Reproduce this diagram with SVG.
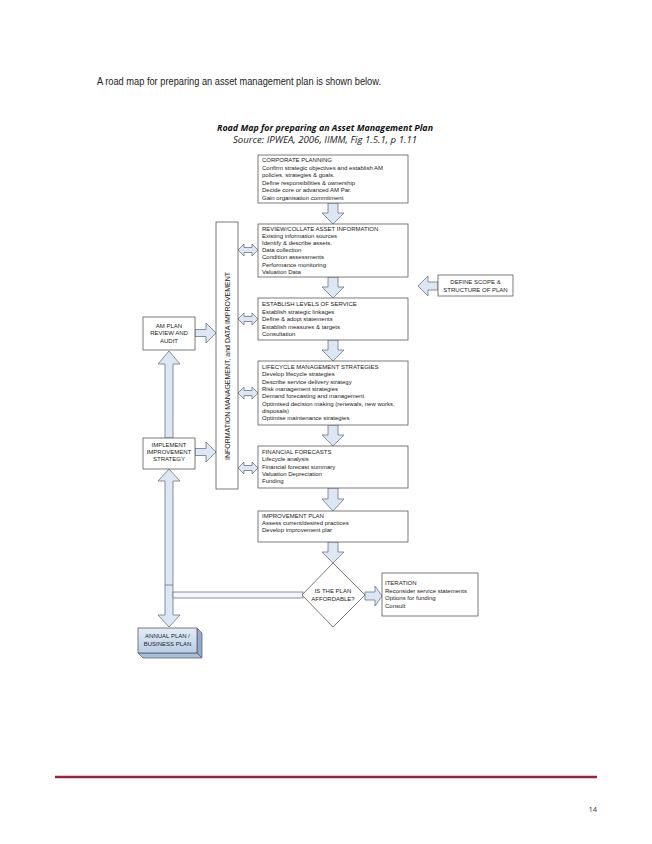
<svg xmlns="http://www.w3.org/2000/svg" width="652" height="844" viewBox="0 0 652 844">
<style>
.bx{fill:#fff;stroke:#5a5a5a;stroke-width:0.8}
.ar{fill:#dde7f3;stroke:#6b7585;stroke-width:0.8;stroke-linejoin:miter}
.t{font-family:"Liberation Sans",Arial,sans-serif;font-size:6px;fill:#222}
.c{text-anchor:middle}
</style>
<defs>
<linearGradient id="g" x1="0" y1="0" x2="0" y2="1">
<stop offset="0" stop-color="#e4ecf7"/><stop offset="1" stop-color="#b9cde6"/>
</linearGradient>
</defs>
<rect width="652" height="844" fill="#fff"/>
<text x="97" y="85" font-family="'Liberation Sans',Arial,sans-serif" font-size="10" fill="#222" textLength="284" lengthAdjust="spacingAndGlyphs">A road map for preparing an asset management plan is shown below.</text>
<text x="325" y="131" text-anchor="middle" font-family="'Open Sans','Liberation Sans',sans-serif" font-size="9.5" font-weight="bold" font-style="italic" fill="#111" textLength="216" lengthAdjust="spacingAndGlyphs">Road Map for preparing an Asset Management Plan</text>
<text x="325" y="143" text-anchor="middle" font-family="'Open Sans','Liberation Sans',sans-serif" font-size="9" font-style="italic" fill="#222" textLength="184" lengthAdjust="spacingAndGlyphs">Source: IPWEA, 2006, IIMM, Fig 1.5.1, p 1.11</text>

<g id="connectors">
<path class="ar" d="M328,203 L338,203 L338,213 L344,213 L333,224 L322,213 L328,213 Z"/>
<path class="ar" d="M328,277 L338,277 L338,287 L344,287 L333,298 L322,287 L328,287 Z"/>
<path class="ar" d="M328,340 L338,340 L338,350 L344,350 L333,361 L322,350 L328,350 Z"/>
<path class="ar" d="M328,425 L338,425 L338,435 L344,435 L333,446 L322,435 L328,435 Z"/>
<path class="ar" d="M328,488 L338,488 L338,499 L344,499 L333,511 L322,499 L328,499 Z"/>
<path class="ar" d="M328,542 L338,542 L338,552 L344,552 L333,563 L322,552 L328,552 Z"/>
<path class="ar" d="M238,250 L244,244 L244,247.5 L252,247.5 L252,244 L258,250 L252,256 L252,252.5 L244,252.5 L244,256 Z"/>
<path class="ar" d="M238,319 L244,313 L244,316.5 L252,316.5 L252,313 L258,319 L252,325 L252,321.5 L244,321.5 L244,325 Z"/>
<path class="ar" d="M238,393 L244,387 L244,390.5 L252,390.5 L252,387 L258,393 L252,399 L252,395.5 L244,395.5 L244,399 Z"/>
<path class="ar" d="M238,468 L244,462 L244,465.5 L252,465.5 L252,462 L258,468 L252,474 L252,470.5 L244,470.5 L244,474 Z"/>
<path class="ar" d="M195,329.5 L206,329.5 L206,323 L216,333 L206,343 L206,336.5 L195,336.5 Z"/>
<path class="ar" d="M195,448.5 L206,448.5 L206,442 L216,452 L206,462 L206,455.5 L195,455.5 Z"/>
<path class="ar" d="M438,282 L428,282 L428,276 L418,286 L428,296 L428,290 L438,290 Z"/>
<path class="ar" d="M365,592 L375,592 L375,586 L382,596 L375,606 L375,600 L365,600 Z"/>
<path class="ar" d="M165,438 L165,364 L158,364 L169,351 L180,364 L173,364 L173,438 Z"/>
<path class="ar" d="M169,469 L180,481 L173,481 L173,615 L180,615 L169,627 L158,615 L165,615 L165,481 L158,481 Z"/>
<line x1="165" y1="585" x2="173" y2="585" stroke="#6b7585" stroke-width="0.8"/>
<rect x="173" y="592" width="130" height="6" fill="#f3f5f9" stroke="#6b7585" stroke-width="0.8"/>
</g>

<g id="corporate">
<rect class="bx" x="258" y="155" width="150" height="48"/>
<text class="t" x="262" y="162">CORPORATE PLANNING</text>
<text class="t" x="262" y="169.5">Confirm strategic objectives and establish AM</text>
<text class="t" x="262" y="177">policies, strategies &amp; goals.</text>
<text class="t" x="262" y="184.5">Define responsibilities &amp; ownership</text>
<text class="t" x="262" y="192">Decide core or advanced AM Par.</text>
<text class="t" x="262" y="199.5">Gain organisation commitment</text>
</g>

<g id="review">
<rect class="bx" x="258" y="224" width="150" height="53"/>
<text class="t" x="262" y="230.5">REVIEW/COLLATE ASSET INFORMATION</text>
<text class="t" x="262" y="237.7">Existing information sources</text>
<text class="t" x="262" y="244.9">Identify &amp; describe assets.</text>
<text class="t" x="262" y="252.1">Data collection</text>
<text class="t" x="262" y="259.3">Condition assessments</text>
<text class="t" x="262" y="266.5">Performance monitoring</text>
<text class="t" x="262" y="273.7">Valuation Data</text>
</g>

<g id="levels">
<rect class="bx" x="258" y="298" width="150" height="42"/>
<text class="t" x="262" y="306">ESTABLISH LEVELS OF SERVICE</text>
<text class="t" x="262" y="313.5">Establish strategic linkages</text>
<text class="t" x="262" y="321">Define &amp; adopt statements</text>
<text class="t" x="262" y="328.5">Establish measures &amp; targets</text>
<text class="t" x="262" y="336">Consultation</text>
</g>

<g id="lifecycle">
<rect class="bx" x="258" y="361" width="150" height="64"/>
<text class="t" x="262" y="369">LIFECYCLE MANAGEMENT STRATEGIES</text>
<text class="t" x="262" y="376.3">Develop lifecycle strategies</text>
<text class="t" x="262" y="383.6">Describe service delivery strategy</text>
<text class="t" x="262" y="390.9">Risk management strategies</text>
<text class="t" x="262" y="398.2">Demand forecasting and management</text>
<text class="t" x="262" y="405.5">Optimised decision making (renewals, new works,</text>
<text class="t" x="262" y="412.8">disposals)</text>
<text class="t" x="262" y="420.1">Optimise maintenance strategies</text>
</g>

<g id="financial">
<rect class="bx" x="258" y="446" width="150" height="42"/>
<text class="t" x="262" y="454">FINANCIAL FORECASTS</text>
<text class="t" x="262" y="461.3">Lifecycle analysis</text>
<text class="t" x="262" y="468.6">Financial forecast summary</text>
<text class="t" x="262" y="475.9">Valuation Depreciation</text>
<text class="t" x="262" y="483.2">Funding</text>
</g>

<g id="improvement">
<rect class="bx" x="258" y="511" width="150" height="31"/>
<text class="t" x="262" y="518">IMPROVEMENT PLAN</text>
<text class="t" x="262" y="525">Assess current/desired practices</text>
<text class="t" x="262" y="532">Develop improvement plar</text>
</g>

<g id="affordable">
<polygon class="bx" points="333,563 365,595 333,627 302,595"/>
<text class="t c" x="333" y="593">IS THE PLAN</text>
<text class="t c" x="333" y="601">AFFORDABLE?</text>
</g>

<g id="iteration">
<rect class="bx" x="382" y="573" width="96" height="43"/>
<text class="t" x="385" y="585">ITERATION</text>
<text class="t" x="385" y="592.5">Reconsider service statements</text>
<text class="t" x="385" y="600">Options for funding</text>
<text class="t" x="385" y="607.5">Consult</text>
</g>

<g id="scope">
<rect class="bx" x="438" y="275" width="75" height="21"/>
<text class="t c" x="475.5" y="284">DEFINE SCOPE &amp;</text>
<text class="t c" x="475.5" y="292">STRUCTURE OF PLAN</text>
</g>

<g id="info">
<rect class="bx" x="216" y="222" width="22" height="267"/>
<text class="t c" style="font-size:6.6px" transform="translate(229.5,366) rotate(-90)" x="0" y="0" textLength="188" lengthAdjust="spacingAndGlyphs">INFORMATION MANAGEMENT, and DATA IMPROVEMENT</text>
</g>

<g id="amreview">
<rect class="bx" x="143" y="317" width="52" height="33"/>
<text class="t c" x="169" y="327.5">AM PLAN</text>
<text class="t c" x="169" y="335">REVIEW AND</text>
<text class="t c" x="169" y="342.5">AUDIT</text>
</g>

<g id="implement">
<rect class="bx" x="143" y="438" width="52" height="31"/>
<text class="t c" x="169" y="446.5">IMPLEMENT</text>
<text class="t c" x="169" y="453.5">IMPROVEMENT</text>
<text class="t c" x="169" y="460.5">STRATEGY</text>
</g>

<g id="annual">
<polygon points="197,628 202,633 202,658 197,653" fill="#8fa9d0" stroke="#5a5a5a" stroke-width="0.7"/>
<polygon points="138,653 197,653 202,658 143,658" fill="#a8bedf" stroke="#5a5a5a" stroke-width="0.7"/>
<rect x="138" y="628" width="59" height="25" fill="url(#g)" stroke="#5a5a5a" stroke-width="0.8"/>
<text class="t c" x="167.5" y="638">ANNUAL PLAN /</text>
<text class="t c" x="167.5" y="645.5">BUSINESS PLAN</text>
</g>

<line x1="55" y1="777" x2="597" y2="777" stroke="#98233a" stroke-width="2.6"/>
<text x="597" y="812" text-anchor="end" font-family="'Open Sans','Liberation Sans',sans-serif" font-size="7.5" fill="#333">14</text>
</svg>
